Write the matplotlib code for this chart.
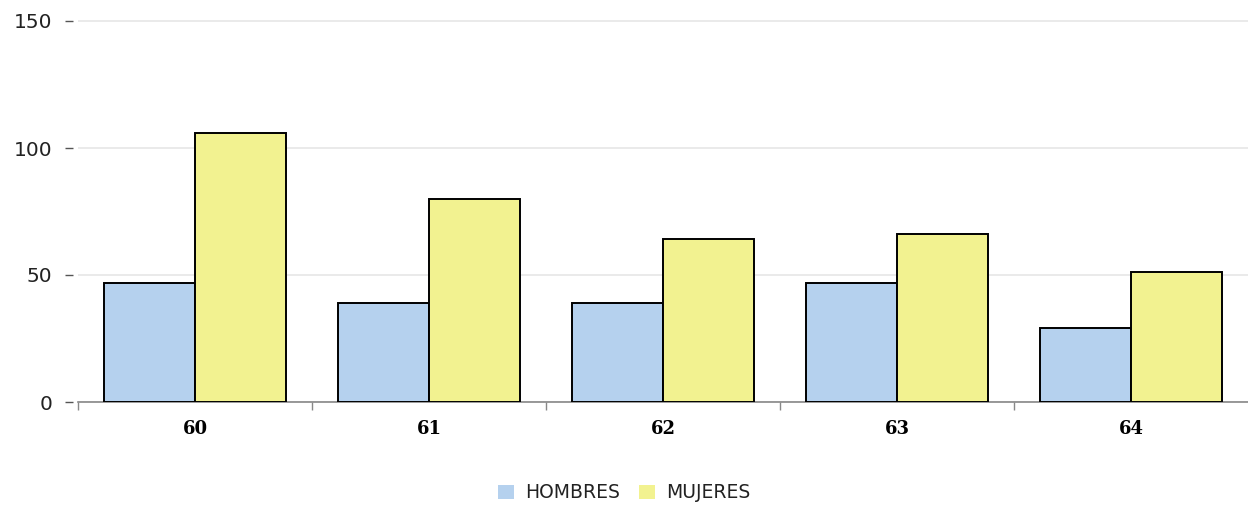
import matplotlib.pyplot as plt
import numpy as np

categories = ["60", "61", "62", "63", "64"]
hombres = [47, 39, 39, 47, 29]
mujeres = [106, 80, 64, 66, 51]

# plot area in pixels: zero line at y=402, 150 at y=21, 2px headroom above
y0_px, y150_px, head_px = 402, 21, 2
top_val = 150 * (y0_px - y150_px + head_px) / (y0_px - y150_px)

fig = plt.figure(figsize=(12.48, 5.05), dpi=100)
ax = fig.add_axes([78 / 1248, 1 - y0_px / 505, 1 - 78 / 1248,
                   (y0_px - y150_px + head_px) / 505])

x = np.arange(len(categories))
w = 0.39
ax.bar(x - w / 2, hombres, w, color="#b5d1ee", edgecolor="black", linewidth=1.4, label="HOMBRES", zorder=3)
ax.bar(x + w / 2, mujeres, w, color="#f2f290", edgecolor="black", linewidth=1.4, label="MUJERES", zorder=3)

ax.set_xlim(-0.5, len(categories) - 0.5)
ax.set_ylim(0, top_val)
ax.set_yticks([0, 50, 100, 150])
ax.yaxis.grid(True, color="#e6e6e6", linewidth=1.2, zorder=0)

ax.set_xticks(x)
ax.set_xticklabels(categories, family="DejaVu Serif", fontweight="bold", fontsize=13)
ax.set_xticks(np.arange(len(categories)) - 0.5, minor=True)
ax.tick_params(axis="x", which="major", length=0, pad=13)
ax.tick_params(axis="x", which="minor", length=6, color="#888888", width=1)

# y ticks sit a little left of the plot area, like the original
ax.spines["left"].set_position(("outward", 3.6))
ax.spines["left"].set_visible(False)
ax.tick_params(axis="y", length=5.8, color="#555555", width=1, pad=9,
               labelsize=14.5, labelcolor="#222222")

for s in ["top", "right"]:
    ax.spines[s].set_visible(False)
ax.spines["bottom"].set_color("#888888")
ax.spines["bottom"].set_linewidth(1.2)

fig.legend(loc="center", bbox_to_anchor=(0.5, 1 - 493 / 505), ncol=2, frameon=False,
           fontsize=13.5, handlelength=0.85, handleheight=0.85, handletextpad=0.6,
           columnspacing=1.0, labelcolor="#222222")
leg = fig.legends[0]
for h in leg.legend_handles:
    h.set_edgecolor("none")

fig.savefig("out.png", dpi=100)
